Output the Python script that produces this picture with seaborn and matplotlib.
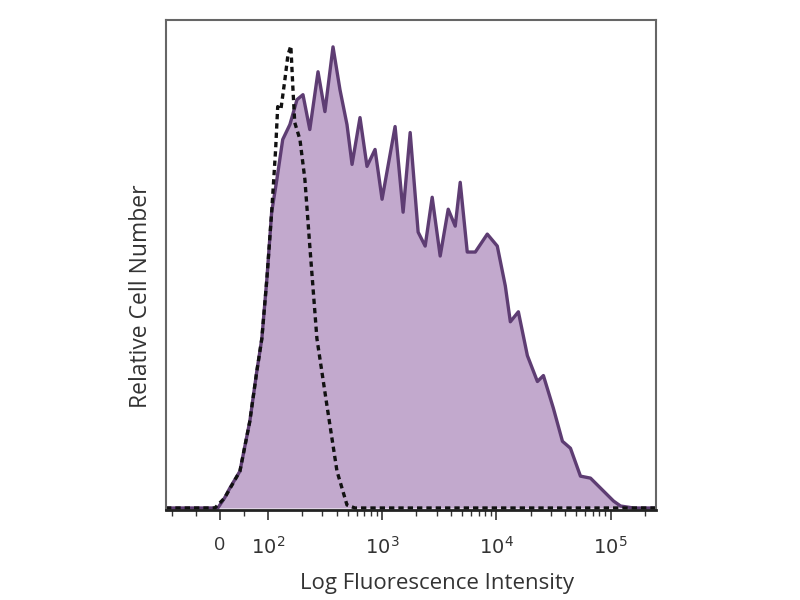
import numpy as np
import pandas as pd
import matplotlib
matplotlib.use("Agg")
import matplotlib.pyplot as plt
import seaborn as sns

# Histograma da amostra corada (linha cheia) - intensidade x contagem relativa
amostra_x = [-112, -4, 10, 21, 42, 62.5, 77, 87.5, 98, 108, 120, 135, 156, 180, 203,
             233, 275, 316, 372, 428, 493, 546, 641, 738, 868, 1000, 1300, 1528,
             1762, 2069, 2384, 2746, 3226, 3793, 4368, 4831, 5568, 6546, 8337,
             10200, 11990, 13270, 15600, 18710, 22900, 25840, 31620, 37930, 44570,
             54530, 66760, 81700, 106200, 122300, 159000, 250000]
amostra_y = [0, 0, 10, 20, 37, 87, 137, 170, 230, 297, 330, 370, 385, 410, 415,
             380, 438, 398, 463, 420, 385, 345, 392, 343, 360, 310, 383, 297,
             377, 277, 263, 312, 253, 300, 283, 327, 257, 257, 275,
             263, 223, 187, 197, 153, 127, 133, 100, 67, 60,
             32, 30, 20, 7, 2, 0, 0]

# Controle de isotipo (linha tracejada)
controle_x = [-112, -10, 10, 42, 62.5, 77, 87.5, 98, 108, 117, 122, 130, 141, 150,
              159, 166, 172, 191, 211, 233, 269, 329, 403, 493, 579, 250000]
controle_y = [0, 0, 10, 37, 87, 137, 170, 230, 297, 360, 403, 400, 430, 455,
              464, 420, 387, 370, 330, 263, 170, 103, 37, 3, 0, 0]

ticks_x = [0, 100, 1000, 10000, 100000]
ticks_lbl = ['0', '$10^2$', '$10^3$', '$10^4$', '$10^5$']

df_amostra = pd.DataFrame({'x': amostra_x, 'y': amostra_y})
df_controle = pd.DataFrame({'x': controle_x, 'y': controle_y})

sns.set_style("white")
plt.rcParams['font.family'] = ['Open Sans', 'DejaVu Sans']

fig = plt.figure(figsize=(8, 6), dpi=100)
ax = fig.add_axes([0.2075, 0.15, 0.6125, 0.8167])

ax.fill_between(df_amostra['x'], df_amostra['y'], color='#c2a9cd', linewidth=0)
sns.lineplot(x='x', y='y', data=df_amostra, ax=ax, color='#5e3d73',
             linewidth=2.4, sort=False, estimator=None)
sns.lineplot(x='x', y='y', data=df_controle, ax=ax, color='#111111',
             linewidth=2.4, sort=False, estimator=None, linestyle=(0, (1.6, 1.2)))

ax.set_xscale('symlog', linthresh=100, linscale=0.379)

ax.set_xticks(ticks_x)
ax.set_xticklabels(ticks_lbl, fontsize=14, color='#333333')
minors = [k * 10 ** d for d in range(2, 6) for k in range(2, 10)] + [-100, -50, 50]
minors = [m for m in minors if m < 250000]
ax.set_xticks(minors, minor=True)
ax.tick_params(axis='x', which='major', direction='out', length=7, width=1.2,
               bottom=True, color='#333333', pad=12)
ax.tick_params(axis='x', which='minor', direction='out', length=4, width=1,
               bottom=True, color='#333333')
ax.set_yticks([])

# limites definidos depois dos ticks para nao expandir o eixo
ax.set_xlim(-112, 250000)
ax.set_ylim(-2, 490)

for lado in ['left', 'top', 'right']:
    ax.spines[lado].set_color('#666666')
    ax.spines[lado].set_linewidth(1.5)
ax.spines['bottom'].set_color('#222222')
ax.spines['bottom'].set_linewidth(2)

ax.set_xlabel('Log Fluorescence Intensity', fontsize=16, color='#333333')
ax.set_ylabel('Relative Cell Number', fontsize=16.5, color='#333333')
ax.xaxis.set_label_coords(0.553, -0.128)
ax.yaxis.set_label_coords(-0.027, 0.437)

plt.savefig('out.png', dpi=100)
